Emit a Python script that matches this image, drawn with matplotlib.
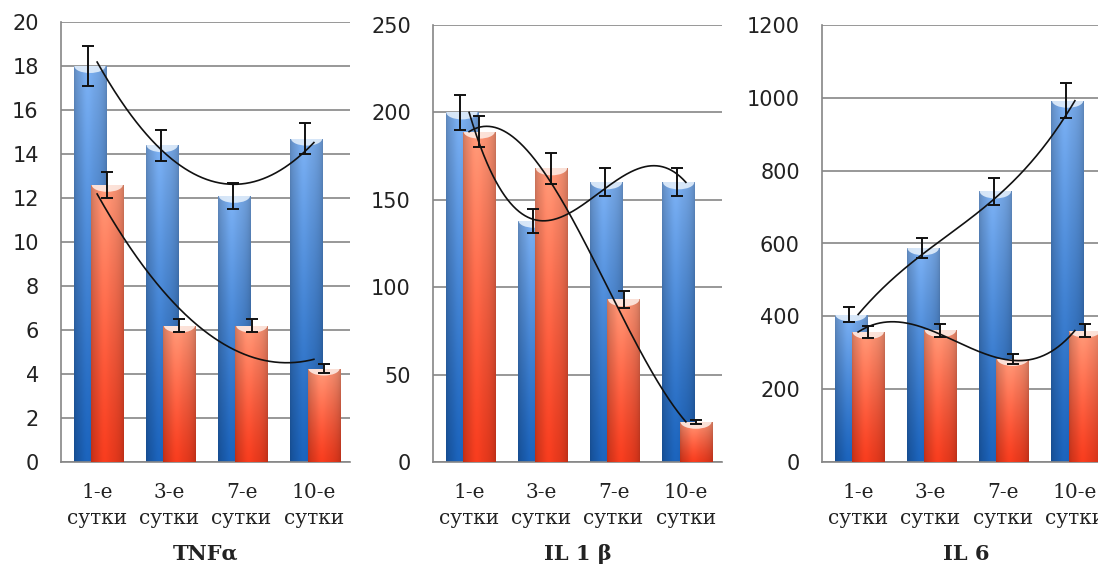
import numpy as np
import matplotlib
matplotlib.use("Agg")
import matplotlib.pyplot as plt
from matplotlib.patches import Ellipse

# --- data ---------------------------------------------------------------------
days = ["1-е\nсутки", "3-е\nсутки", "7-е\nсутки", "10-е\nсутки"]
titles = ["TNFα", "IL 1 β", "IL 6"]

tnf_blue = [18.0, 14.4, 12.1, 14.7]
tnf_blue_err = [0.9, 0.7, 0.6, 0.7]
tnf_red = [12.6, 6.2, 6.2, 4.25]
tnf_red_err = [0.6, 0.3, 0.3, 0.2]

il1_blue = [200, 138, 160, 160]
il1_blue_err = [10, 7, 8, 8]
il1_red = [189, 168, 93, 23]
il1_red_err = [9, 9, 5, 1]

il6_blue = [405, 587, 743, 992]
il6_blue_err = [21, 28, 36, 48]
il6_red = [357, 362, 283, 361]
il6_red_err = [17, 18, 14, 18]

ymax = [20, 250, 1200]
ystep = [2, 50, 200]
trend_deg = [2, 3, 3]

# --- styling ------------------------------------------------------------------
W, H = 1098, 568
BLUE_TOP, BLUE_BOT = np.array([0.45, 0.64, 0.88]), np.array([0.10, 0.36, 0.68])
RED_TOP, RED_BOT = np.array([0.95, 0.56, 0.44]), np.array([0.89, 0.22, 0.11])
BLUE_CAP, RED_CAP = "#e2eefb", "#fdebe4"
GRID = "#868686"
BW = 0.45
OFF_BLUE, OFF_RED = -0.10, 0.14

# axes boxes in pixels: left, top, right, bottom
boxes = [(61, 22, 350, 462), (433, 25, 722, 462), (822, 25, 1111, 462)]


def cylinder(ax, bar, top, bot, cap, top_px_unit, z):
    x0, w, h = bar.get_x(), bar.get_width(), bar.get_height()
    u = np.linspace(0, 1, 60)
    v = np.linspace(0, 1, 120)[:, None, None]
    shade = 0.82 + 0.22 * np.sin(np.pi * u) ** 0.6
    shade = shade + 0.06 * np.exp(-((u - 0.4) / 0.15) ** 2)
    col = bot + (top - bot) * v ** 1.2
    img = np.clip(col * shade[None, :, None], 0, 1)
    im = ax.imshow(img, extent=(x0, x0 + w, 0, h), origin="lower",
                   aspect="auto", interpolation="bilinear", zorder=z)
    im.set_clip_path(bar)
    cap_h = 7.0 / top_px_unit
    e = Ellipse((x0 + w / 2, h), w * 0.96, 2 * cap_h, facecolor=cap,
                edgecolor="none", alpha=0.9, zorder=z + 0.1)
    ax.add_patch(e)
    e.set_clip_path(bar)


fig = plt.figure(figsize=(W / 100, H / 100), dpi=100)

series = [
    (tnf_blue, tnf_blue_err, tnf_red, tnf_red_err),
    (il1_blue, il1_blue_err, il1_red, il1_red_err),
    (il6_blue, il6_blue_err, il6_red, il6_red_err),
]

for k, (b, be, r, re_) in enumerate(series):
    l, t, rr, bt = boxes[k]
    ax = fig.add_axes([l / W, (H - bt) / H, (rr - l) / W, (bt - t) / H])
    x = np.arange(len(days))
    px_unit = (bt - t) / ymax[k]

    bars_b = ax.bar(x + OFF_BLUE, b, BW, color=BLUE_BOT, zorder=2)
    bars_r = ax.bar(x + OFF_RED, r, BW, color=RED_BOT, zorder=4)
    for bar in bars_b:
        cylinder(ax, bar, BLUE_TOP, BLUE_BOT, BLUE_CAP, px_unit, 2.5)
    for bar in bars_r:
        cylinder(ax, bar, RED_TOP, RED_BOT, RED_CAP, px_unit, 4.5)

    ax.errorbar(x + OFF_BLUE - 0.02, b, yerr=be, fmt="none", ecolor="#111111",
                elinewidth=1.4, capsize=4.3, capthick=1.4, zorder=7)
    ax.errorbar(x + OFF_RED, r, yerr=re_, fmt="none", ecolor="#111111",
                elinewidth=1.4, capsize=4.3, capthick=1.4, zorder=7)

    # polynomial trend lines through the category centres
    xs = np.linspace(0, len(days) - 1, 300)
    for vals in (b, r):
        coef = np.polyfit(x, vals, trend_deg[k])
        ax.plot(xs, np.polyval(coef, xs), color="#111111", lw=1.2, zorder=8)

    ax.set_xlim(-0.5, len(days) - 0.5)
    ax.set_ylim(0, ymax[k])
    ax.set_yticks(np.arange(0, ymax[k] + ystep[k] / 2, ystep[k]))
    ax.set_xticks(x)
    ax.set_xticklabels(days, family="DejaVu Serif", fontsize=14.5,
                       linespacing=1.5, color="#222222")
    for lab in ax.get_yticklabels():
        lab.set_fontsize(15)
        lab.set_color("#222222")
    ax.tick_params(axis="both", length=0)
    ax.tick_params(axis="y", pad=16)
    ax.tick_params(axis="x", pad=15)
    ax.yaxis.grid(True, color=GRID, lw=1.2)
    ax.set_axisbelow(True)
    for s in ("top", "right"):
        ax.spines[s].set_visible(False)
    for s in ("left", "bottom"):
        ax.spines[s].set_color(GRID)
        ax.spines[s].set_linewidth(1.2)

    cx = (l + rr) / 2 / W
    fig.text(cx, (H - 554) / H, titles[k], ha="center", va="center",
             family="DejaVu Serif", fontsize=15, fontweight="bold",
             color="#222222")

fig.savefig("out.png", dpi=100)
